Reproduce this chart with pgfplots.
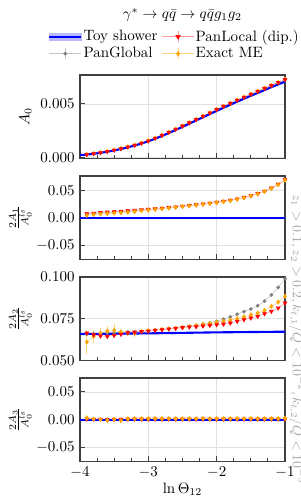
\documentclass[border=0pt]{standalone}
\usepackage{pgfplots}
\usepackage{pgfplotstable}
\pgfplotsset{compat=1.18}
\usepgfplotslibrary{fillbetween}
\definecolor{mplorange}{HTML}{FFA500}
\definecolor{mplblue}{HTML}{0000FF}
\definecolor{mplred}{HTML}{FF0000}
\definecolor{mplgray}{HTML}{808080}

% A0 panel: x, PanLocal, PanGlobal, Exact ME
\pgfplotstableread{
x ll lg me
-3.9 0.00025 0.00025 0.00026
-3.8 0.00033 0.00033 0.00034
-3.7 0.00042 0.00042 0.00043
-3.6 0.00053 0.00053 0.00054
-3.5 0.00066 0.00066 0.00067
-3.4 0.00080 0.00080 0.00081
-3.3 0.00095 0.00095 0.00097
-3.2 0.00112 0.00112 0.00114
-3.1 0.00131 0.00131 0.00133
-3.0 0.00152 0.00152 0.00154
-2.9 0.00178 0.00177 0.00179
-2.8 0.00205 0.00204 0.00206
-2.7 0.00233 0.00232 0.00234
-2.6 0.00262 0.00261 0.00263
-2.5 0.00292 0.00291 0.00293
-2.4 0.00322 0.00321 0.00323
-2.3 0.00353 0.00352 0.00354
-2.2 0.00384 0.00383 0.00385
-2.1 0.00415 0.00414 0.00416
-2.0 0.00446 0.00445 0.00447
-1.9 0.00476 0.00475 0.00477
-1.8 0.00505 0.00504 0.00506
-1.7 0.00534 0.00533 0.00535
-1.6 0.00562 0.00561 0.00563
-1.5 0.00590 0.00589 0.00591
-1.4 0.00617 0.00616 0.00618
-1.3 0.00645 0.00644 0.00646
-1.2 0.00672 0.00671 0.00673
-1.1 0.00700 0.00699 0.00701
-1.0 0.00728 0.00727 0.00729
}\tabA

% Toy shower A0
\pgfplotstableread{
x t
-4.0 0.00020
-3.9 0.00024
-3.8 0.00032
-3.7 0.00041
-3.6 0.00051
-3.5 0.00063
-3.4 0.00077
-3.3 0.00092
-3.2 0.00109
-3.1 0.00128
-3.0 0.00149
-2.9 0.00173
-2.8 0.00199
-2.7 0.00226
-2.6 0.00255
-2.5 0.00284
-2.4 0.00314
-2.3 0.00344
-2.2 0.00374
-2.1 0.00404
-2.0 0.00434
-1.9 0.00463
-1.8 0.00492
-1.7 0.00520
-1.6 0.00548
-1.5 0.00575
-1.4 0.00602
-1.3 0.00629
-1.2 0.00656
-1.1 0.00682
-1.0 0.00708
}\tabToyA

% A1 panel
\pgfplotstableread{
x ll lg me e
-3.9 0.0072 0.0064 0.0040 0.0040
-3.8 0.0080 0.0072 0.0058 0.0020
-3.7 0.0092 0.0084 0.0066 0.0015
-3.6 0.0100 0.0092 0.0074 0.0012
-3.5 0.0108 0.0100 0.0080 0.0012
-3.4 0.0115 0.0107 0.0090 0.0010
-3.3 0.0124 0.0116 0.0100 0.0010
-3.2 0.0132 0.0124 0.0112 0.0010
-3.1 0.0141 0.0134 0.0125 0.0008
-3.0 0.0150 0.0143 0.0137 0.0008
-2.9 0.0160 0.0154 0.0150 0.0008
-2.8 0.0171 0.0165 0.0163 0.0007
-2.7 0.0183 0.0178 0.0176 0.0007
-2.6 0.0195 0.0190 0.0190 0.0007
-2.5 0.0208 0.0203 0.0203 0.0006
-2.4 0.0220 0.0216 0.0215 0.0006
-2.3 0.0233 0.0229 0.0228 0.0006
-2.2 0.0247 0.0243 0.0242 0.0006
-2.1 0.0262 0.0258 0.0257 0.0006
-2.0 0.0278 0.0274 0.0273 0.0006
-1.9 0.0296 0.0292 0.0291 0.0006
-1.8 0.0316 0.0312 0.0311 0.0006
-1.7 0.0340 0.0336 0.0335 0.0006
-1.6 0.0368 0.0364 0.0362 0.0006
-1.5 0.0400 0.0396 0.0394 0.0006
-1.4 0.0438 0.0434 0.0432 0.0006
-1.3 0.0482 0.0478 0.0476 0.0006
-1.2 0.0540 0.0536 0.0532 0.0006
-1.1 0.0610 0.0606 0.0602 0.0006
-1.0 0.0690 0.0686 0.0682 0.0006
}\tabB

% A2 panel
\pgfplotstableread{
x ll lg me e
-3.9 0.0664 0.0658 0.0610 0.0070
-3.8 0.0654 0.0660 0.0644 0.0040
-3.7 0.0646 0.0660 0.0664 0.0030
-3.6 0.0644 0.0664 0.0676 0.0030
-3.5 0.0650 0.0666 0.0680 0.0040
-3.4 0.0656 0.0668 0.0670 0.0020
-3.3 0.0666 0.0672 0.0664 0.0020
-3.2 0.0670 0.0670 0.0662 0.0020
-3.1 0.0673 0.0674 0.0674 0.0015
-3.0 0.0676 0.0678 0.0678 0.0015
-2.9 0.0680 0.0682 0.0682 0.0012
-2.8 0.0684 0.0686 0.0685 0.0010
-2.7 0.0688 0.0690 0.0689 0.0010
-2.6 0.0692 0.0694 0.0693 0.0010
-2.5 0.0697 0.0700 0.0698 0.0008
-2.4 0.0700 0.0706 0.0704 0.0008
-2.3 0.0702 0.0711 0.0709 0.0008
-2.2 0.0706 0.0718 0.0715 0.0008
-2.1 0.0710 0.0725 0.0721 0.0008
-2.0 0.0714 0.0734 0.0728 0.0008
-1.9 0.0718 0.0747 0.0735 0.0008
-1.8 0.0724 0.0761 0.0742 0.0008
-1.7 0.0734 0.0777 0.0750 0.0008
-1.6 0.0744 0.0793 0.0761 0.0008
-1.5 0.0754 0.0808 0.0773 0.0008
-1.4 0.0764 0.0828 0.0784 0.0008
-1.3 0.0780 0.0856 0.0800 0.0008
-1.2 0.0794 0.0893 0.0824 0.0008
-1.1 0.0814 0.0938 0.0850 0.0008
-1.0 0.0844 0.0990 0.0884 0.0008
}\tabC

% Toy shower A2
\pgfplotstableread{
x t lo hi
-4.0 0.0658 0.0655 0.0661
-3.5 0.0660 0.0657 0.0663
-3.0 0.0662 0.0659 0.0665
-2.5 0.0665 0.0662 0.0669
-2.0 0.0668 0.0665 0.0673
-1.5 0.0670 0.0667 0.0674
-1.0 0.0672 0.0669 0.0675
}\tabToyC

% A3 panel
\pgfplotstableread{
x ll lg me e
-3.9 0.0012 0.0006 0.0030 0.0060
-3.8 0.0008 0.0004 0.0010 0.0025
-3.7 0.0006 0.0003 0.0002 0.0020
-3.6 0.0005 0.0004 -0.0012 0.0020
-3.5 0.0007 0.0003 0.0006 0.0020
-3.4 0.0008 0.0004 -0.0015 0.0018
-3.3 0.0010 0.0003 0.0015 0.0015
-3.2 0.0011 0.0005 0.0020 0.0015
-3.1 0.0010 0.0004 0.0020 0.0012
-3.0 0.0010 0.0005 0.0018 0.0012
-2.9 0.0011 0.0005 0.0020 0.0010
-2.8 0.0010 0.0005 0.0019 0.0010
-2.7 0.0011 0.0006 0.0020 0.0010
-2.6 0.0010 0.0005 0.0018 0.0010
-2.5 0.0010 0.0005 0.0016 0.0010
-2.4 0.0011 0.0006 0.0019 0.0010
-2.3 0.0010 0.0005 0.0018 0.0010
-2.2 0.0011 0.0006 0.0020 0.0010
-2.1 0.0010 0.0005 0.0017 0.0010
-2.0 0.0010 0.0005 0.0019 0.0010
-1.9 0.0011 0.0006 0.0020 0.0010
-1.8 0.0010 0.0005 0.0018 0.0010
-1.7 0.0011 0.0005 0.0019 0.0010
-1.6 0.0010 0.0006 0.0020 0.0010
-1.5 0.0011 0.0005 0.0019 0.0010
-1.4 0.0010 0.0005 0.0018 0.0010
-1.3 0.0011 0.0006 0.0020 0.0010
-1.2 0.0012 0.0006 0.0021 0.0010
-1.1 0.0012 0.0006 0.0022 0.0010
-1.0 0.0013 0.0007 0.0024 0.0010
}\tabD

\pgfplotsset{
  panel/.style={
    width=136.7pt, height=55.5pt, scale only axis,
    anchor=north west,
    xmin=-4, xmax=-1,
    xtick={-4,-3,-2,-1},
    minor x tick num=3,
    xtick pos=bottom, ytick pos=left,
    tick align=inside,
    major tick length=3.5pt, minor tick length=2pt,
    xmajorgrids, ymajorgrids,
    major grid style={black!12, line width=0.4pt},
    axis line style={black!75, line width=0.9pt},
    every tick/.style={black!75, line width=0.6pt},
    xticklabels={},
    scaled y ticks=false,
    ylabel style={at={(axis description cs:-0.29,0.5)}, anchor=center},
  },
  toyline/.style={mplblue, line width=1.4pt},
  gl/.style={mplgray!45, line width=0.4pt, mark=*, mark size=1.05pt,
    mark options={fill=mplgray, draw=mplgray, solid}},
  lo/.style={mplred!35, line width=0.4pt, mark=triangle*, mark size=1.45pt,
    mark options={rotate=180, fill=mplred, draw=mplred, solid}},
  me/.style={mplorange!45, line width=0.4pt, mark=diamond*, mark size=1.4pt,
    mark options={fill=mplorange, draw=mplorange, solid},
    error bars/y dir=both, error bars/y explicit,
    error bars/error bar style={mplorange!50, line width=0.5pt},
    error bars/error mark=none},
}

\begin{document}
\begin{tikzpicture}

% ---------- Panel 1 : A0 ----------
\begin{axis}[panel, at={(0pt,0pt)},
  ymin=-0.0001, ymax=0.0077,
  ytick={0,0.005}, yticklabels={$0.000$,$0.005$},
  ylabel={$A_0$},
  ylabel style={at={(axis description cs:-0.266,0.5)}, anchor=center},
  legend cell align=left,
  legend style={at={(0.46,1.36)}, anchor=center, draw=none, fill=none,
    legend columns=2, inner sep=0pt, row sep=0.5pt,
    /tikz/every even column/.append style={column sep=2pt},
    nodes={inner sep=1pt}},
]
\addlegendimage{legend image code/.code={
  \fill[mplblue!28] (0pt,-2.6pt) rectangle (21pt,2.6pt);
  \draw[mplblue, line width=1.4pt] (0pt,0pt) -- (21pt,0pt);}}
\addlegendentry{Toy shower}
\addlegendimage{legend image code/.code={
  \draw[mplred!40, line width=0.5pt] (0pt,0pt) -- (21pt,0pt);
  \draw[mplred!40, line width=0.5pt] (10.5pt,-3.5pt) -- (10.5pt,3.5pt);
  \fill[mplred] (10.5pt,0pt) ++(-1.5pt,0.9pt) -- ++(3pt,0pt) -- ++(-1.5pt,-2.5pt) -- cycle;}}
\addlegendentry{PanLocal (dip.)}
\addlegendimage{legend image code/.code={
  \draw[mplgray!45, line width=0.5pt] (0pt,0pt) -- (21pt,0pt);
  \draw[mplgray!45, line width=0.5pt] (10.5pt,-3.5pt) -- (10.5pt,3.5pt);
  \fill[mplgray] (10.5pt,0pt) circle (1.1pt);}}
\addlegendentry{PanGlobal}
\addlegendimage{legend image code/.code={
  \draw[mplorange!50, line width=0.5pt] (0pt,0pt) -- (21pt,0pt);
  \draw[mplorange!50, line width=0.5pt] (10.5pt,-3.5pt) -- (10.5pt,3.5pt);
  \fill[mplorange] (10.5pt,1.5pt) -- (11.6pt,0pt) -- (10.5pt,-1.5pt) -- (9.4pt,0pt) -- cycle;}}
\addlegendentry{Exact ME}
\addplot[gl, forget plot] table[x=x, y=lg] {\tabA};
\addplot[me, forget plot] table[x=x, y=me] {\tabA};
\addplot[lo, forget plot] table[x=x, y=ll] {\tabA};
\addplot[toyline, forget plot] table[x=x, y=t] {\tabToyA};
\end{axis}

% ---------- Panel 2 : A1 ----------
\begin{axis}[panel, at={(0pt,-67.3pt)},
  ymin=-0.076, ymax=0.076,
  ytick={-0.05,0,0.05}, yticklabels={$-0.05$,$0.00$,$0.05$},
  ylabel={$\frac{2A_1}{A_0^{ls}}$},
]
\addplot[name path=bu, draw=none, forget plot] coordinates {(-4,0.0008) (-3.5,0.0008) (-3,0.0008) (-2.5,0.0008) (-2,0.0008) (-1,0.0008)};
\addplot[name path=bl, draw=none, forget plot] coordinates {(-4,-0.0008) (-3.5,-0.0025) (-3,-0.0030) (-2.5,-0.0020) (-2,-0.0008) (-1,-0.0008)};
\addplot[mplblue!25, forget plot] fill between[of=bu and bl];
\addplot[gl] table[x=x, y=lg] {\tabB};
\addplot[lo] table[x=x, y=ll] {\tabB};
\addplot[me] table[x=x, y=me, y error=e] {\tabB};
\addplot[toyline] coordinates {(-4,0) (-1,0)};
\end{axis}

% ---------- Panel 3 : A2 ----------
\begin{axis}[panel, at={(0pt,-134.7pt)},
  ymin=0.05, ymax=0.1,
  ytick={0.05,0.075,0.1}, yticklabels={$0.050$,$0.075$,$0.100$},
  ylabel={$\frac{2A_2}{A_0^{ls}}$},
]
\addplot[name path=cu, draw=none, forget plot] table[x=x, y=hi] {\tabToyC};
\addplot[name path=cl, draw=none, forget plot] table[x=x, y=lo] {\tabToyC};
\addplot[mplblue!25, forget plot] fill between[of=cu and cl];
\addplot[gl] table[x=x, y=lg] {\tabC};
\addplot[me] table[x=x, y=me, y error=e] {\tabC};
\addplot[lo] table[x=x, y=ll] {\tabC};
\addplot[toyline] table[x=x, y=t] {\tabToyC};
\end{axis}

% ---------- Panel 4 : A3 ----------
\begin{axis}[panel, at={(0pt,-202pt)},
  ymin=-0.075, ymax=0.075,
  ytick={-0.05,0,0.05}, yticklabels={$-0.05$,$0.00$,$0.05$},
  xticklabels={$-4$,$-3$,$-2$,$-1$},
  ylabel={$\frac{2A_3}{A_0^{ls}}$},
  xlabel={$\ln\Theta_{12}$},
  xlabel style={yshift=3pt},
]
\addplot[name path=du, draw=none, forget plot] coordinates {(-4,0.0008) (-1,0.0008)};
\addplot[name path=dl, draw=none, forget plot] coordinates {(-4,-0.0008) (-1,-0.0008)};
\addplot[mplblue!25, forget plot] fill between[of=du and dl];
\addplot[gl] table[x=x, y=lg] {\tabD};
\addplot[lo] table[x=x, y=ll] {\tabD};
\addplot[me] table[x=x, y=me, y error=e] {\tabD};
\addplot[toyline] coordinates {(-4,0) (-1,0)};
\end{axis}

% title and side note
\node at (68.3pt,40pt) {$\gamma^* \to q\bar{q} \to q\bar{q}g_1g_2$};
\node[rotate=-90, anchor=center, text=black!35, font=\fontsize{9}{10}\selectfont]
  at (144.7pt,-176pt) {$z_1>0.1, z_2>0.2, k_{t,1}/Q<10^{-2}, k_{t,2}/Q<10^{-5}$};

\pgfresetboundingbox
\path[use as bounding box] (-53.3pt,50pt) rectangle (146.7pt,-283.3pt);
\end{tikzpicture}
\end{document}
